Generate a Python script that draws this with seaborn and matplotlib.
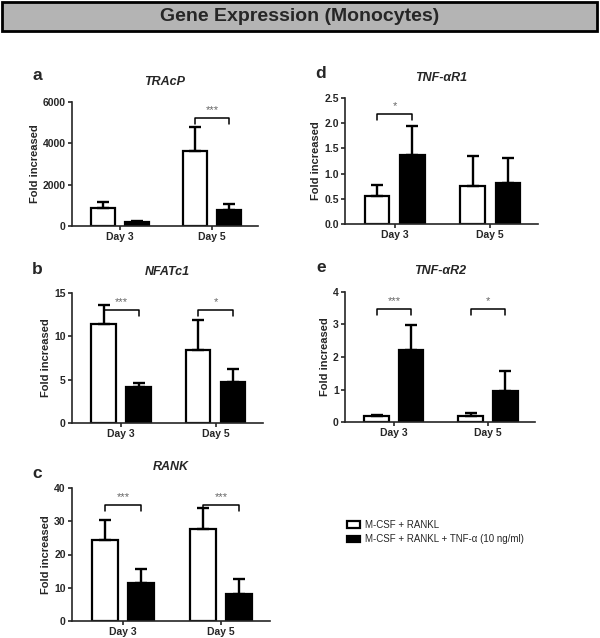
import matplotlib
matplotlib.use("Agg")
import matplotlib.pyplot as plt
from matplotlib.patches import Patch, Rectangle
import pandas as pd
import seaborn as sns

DAYS = ["Day 3", "Day 5"]
GROUPS = ["M-CSF + RANKL", "M-CSF + RANKL + TNF-α (10 ng/ml)"]

# mean and upper error per group (rows) and day (columns)
TRACP_MEAN = [[880, 3650], [170, 780]]
TRACP_ERR = [[270, 1150], [80, 280]]
TRACP_SIG = ["", "***"]

NFATC1_MEAN = [[11.4, 8.4], [4.1, 4.7]]
NFATC1_ERR = [[2.2, 3.5], [0.5, 1.5]]
NFATC1_SIG = ["***", "*"]

RANK_MEAN = [[24.5, 27.7], [11.3, 8.1]]
RANK_ERR = [[6.0, 6.2], [4.3, 4.4]]
RANK_SIG = ["***", "***"]

TNFR1_MEAN = [[0.56, 0.76], [1.37, 0.81]]
TNFR1_ERR = [[0.21, 0.58], [0.58, 0.50]]
TNFR1_SIG = ["*", ""]

TNFR2_MEAN = [[0.17, 0.17], [2.22, 0.95]]
TNFR2_ERR = [[0.05, 0.12], [0.75, 0.62]]
TNFR2_SIG = ["***", "*"]

W, H = 600, 638


def px_rect(left, right, top, bottom):
    ''' convert pixel box of the axes to figure fractions '''
    return [left / W, 1 - bottom / H, (right - left) / W, (bottom - top) / H]


def to_frame(means):
    rows = []
    for g, group in enumerate(GROUPS):
        for d, day in enumerate(DAYS):
            rows.append({"day": day, "group": group, "value": means[g][d]})
    return pd.DataFrame(rows)


def draw_panel(fig, rect, letter, title, means, errs, sigs, yticks, fmt):
    ax = fig.add_axes(rect)
    df = to_frame(means)
    sns.barplot(data=df, x="day", y="value", hue="group", hue_order=GROUPS,
                palette=["white", "black"], edgecolor="black", linewidth=1.6,
                width=0.74, gap=0.3, errorbar=None, legend=False, ax=ax)
    bars = list(ax.containers)

    # upward-only error bars, prism style
    for g, cont in enumerate(bars):
        for d, bar in enumerate(cont):
            x = bar.get_x() + bar.get_width() / 2
            ax.errorbar(x, means[g][d], yerr=[[0], [errs[g][d]]], fmt="none",
                        ecolor="black", elinewidth=1.7, capsize=4.5,
                        capthick=1.7, zorder=1)

    ymax = yticks[-1]
    # significance brackets
    for d, s in enumerate(sigs):
        if not s:
            continue
        b0 = bars[0][d]
        b1 = bars[1][d]
        x0 = b0.get_x() + b0.get_width() / 2
        x1 = b1.get_x() + b1.get_width() / 2
        yb = 0.87 * ymax
        yt = yb - 0.045 * ymax
        ax.plot([x0, x0, x1, x1], [yt, yb, yb, yt], color="black", lw=1.1,
                clip_on=False)
        ax.text((x0 + x1) / 2, yb + 0.025 * ymax, s, ha="center",
                va="bottom", fontsize=8, color="#666666")

    ax.set_xlim(-0.52, 1.5)
    ax.set_ylim(0, ymax)
    ax.set_yticks(yticks)
    ax.set_yticklabels([fmt.format(t) for t in yticks])
    ax.set_xlabel("")
    ax.set_ylabel("Fold increased", fontsize=8, fontweight="bold",
                  labelpad=2)
    sns.despine(ax=ax)
    for side in ["left", "bottom"]:
        ax.spines[side].set_linewidth(1.2)
    ax.tick_params(direction="out", length=3, width=1.2, labelsize=7.5,
                   pad=1.5)
    for lbl in ax.get_xticklabels() + ax.get_yticklabels():
        lbl.set_fontweight("bold")

    ax.text(0.5, 1.16, title, transform=ax.transAxes, ha="center",
            va="center", fontsize=9, fontweight="bold", fontstyle="italic")
    return ax


def main():
    sns.set_style("ticks")
    plt.rcParams["font.family"] = ["Liberation Sans", "DejaVu Sans"]

    fig = plt.figure(figsize=(6, 6.38), dpi=100)

    # header bar
    fig.patches.append(Rectangle((2 / W, 1 - 31 / H), 595 / W, 29 / H,
                                 transform=fig.transFigure,
                                 facecolor="#b4b4b4", edgecolor="black",
                                 lw=2))
    fig.text(0.5, 1 - 16.5 / H, "Gene Expression (Monocytes)", ha="center",
             va="center", fontsize=14, fontweight="bold")

    panels = [
        ("a", "TRAcP", TRACP_MEAN, TRACP_ERR, TRACP_SIG,
         [0, 2000, 4000, 6000], "{:.0f}", px_rect(72, 258, 102, 226),
         (37, 75)),
        ("b", "NFATc1", NFATC1_MEAN, NFATC1_ERR, NFATC1_SIG,
         [0, 5, 10, 15], "{:.0f}", px_rect(72, 263, 293, 423), (37, 270)),
        ("c", "RANK", RANK_MEAN, RANK_ERR, RANK_SIG,
         [0, 10, 20, 30, 40], "{:.0f}", px_rect(72, 270, 488, 621),
         (37, 473)),
        ("d", "TNF-αR1", TNFR1_MEAN, TNFR1_ERR, TNFR1_SIG,
         [0, 0.5, 1.0, 1.5, 2.0, 2.5], "{:.1f}", px_rect(345, 538, 98, 224),
         (321, 74)),
        ("e", "TNF-αR2", TNFR2_MEAN, TNFR2_ERR, TNFR2_SIG,
         [0, 1, 2, 3, 4], "{:.0f}", px_rect(345, 535, 292, 422), (321, 267)),
    ]
    for letter, title, means, errs, sigs, yt, fmt, rect, lpos in panels:
        draw_panel(fig, rect, letter, title, means, errs, sigs, yt, fmt)
        fig.text(lpos[0] / W, 1 - lpos[1] / H, letter, ha="center",
                 va="center", fontsize=12.5, fontweight="bold")

    handles = [Patch(facecolor="white", edgecolor="black", lw=1.6),
               Patch(facecolor="black", edgecolor="black", lw=1.6)]
    fig.legend(handles, GROUPS, loc="upper left",
               bbox_to_anchor=(347 / W, 1 - 520 / H), frameon=False,
               fontsize=7, handlelength=1.3, handleheight=0.7,
               handletextpad=0.6, labelspacing=0.45, borderpad=0,
               borderaxespad=0)

    fig.savefig("out.png", dpi=100)


if __name__ == "__main__":
    main()
